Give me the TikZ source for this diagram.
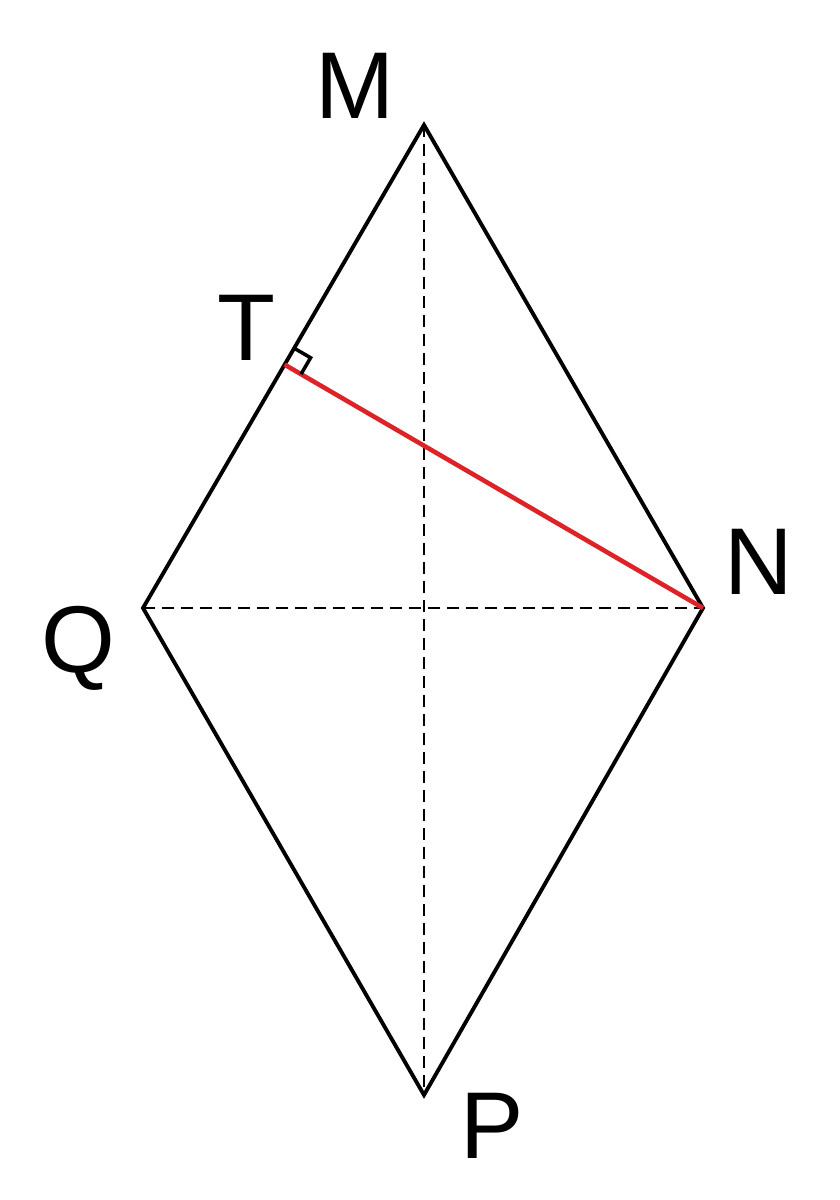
\documentclass[tikz,border=0pt]{standalone}
\usepackage{fontspec}
\setmainfont{Liberation Sans}
\usepackage{xcolor}
\usetikzlibrary{calc}

\definecolor{segred}{RGB}{222,35,40}

\begin{document}
\begin{tikzpicture}[
        edge/.style={draw=black, line width=1.1pt, line join=miter},
        diag/.style={draw=black, line width=0.75pt, dash pattern=on 0.12cm off 0.07cm},
        perp/.style={draw=segred, line width=1.3pt},
        lbl/.style={inner sep=0pt, font=\fontsize{27}{32}\selectfont}
    ]
        \useasboundingbox (0,0) rectangle (8.4,-12);

        % Vertices
        \coordinate (M) at (4.24,-1.25);
        \coordinate (N) at (7.03,-6.08);
        \coordinate (P) at (4.24,-10.95);
        \coordinate (Q) at (1.43,-6.08);
        \coordinate (T) at ($(Q)!(N)!(M)$);

        % Labels
        \node[lbl] (labM) at (3.55,-0.86) {M};
        \node[lbl] (labN) at (7.59,-5.62) {N};
        \node[lbl] (labP) at (4.92,-11.26) {P};
        \node[lbl] (labQ) at (0.78,-6.48) {Q};
        \node[lbl] (labT) at (2.46,-3.28) {T};

        % Diagonals
        \draw[diag] (M) -- (P);
        \draw[diag] (Q) -- (N);

        % Rhombus
        \draw[edge] (M) -- (N) -- (P) -- (Q) -- cycle;

        % Perpendicular from N
        \draw[perp] (T) -- (N);

        % Right angle mark
        \coordinate (ta) at ($(T)!0.19cm!(M)$);
        \coordinate (tb) at ($(T)!0.19cm!(N)$);
        \draw[draw=black, line width=1pt] (ta) -- ($(ta)+(tb)-(T)$) -- (tb);

    \end{tikzpicture}
\end{document}
